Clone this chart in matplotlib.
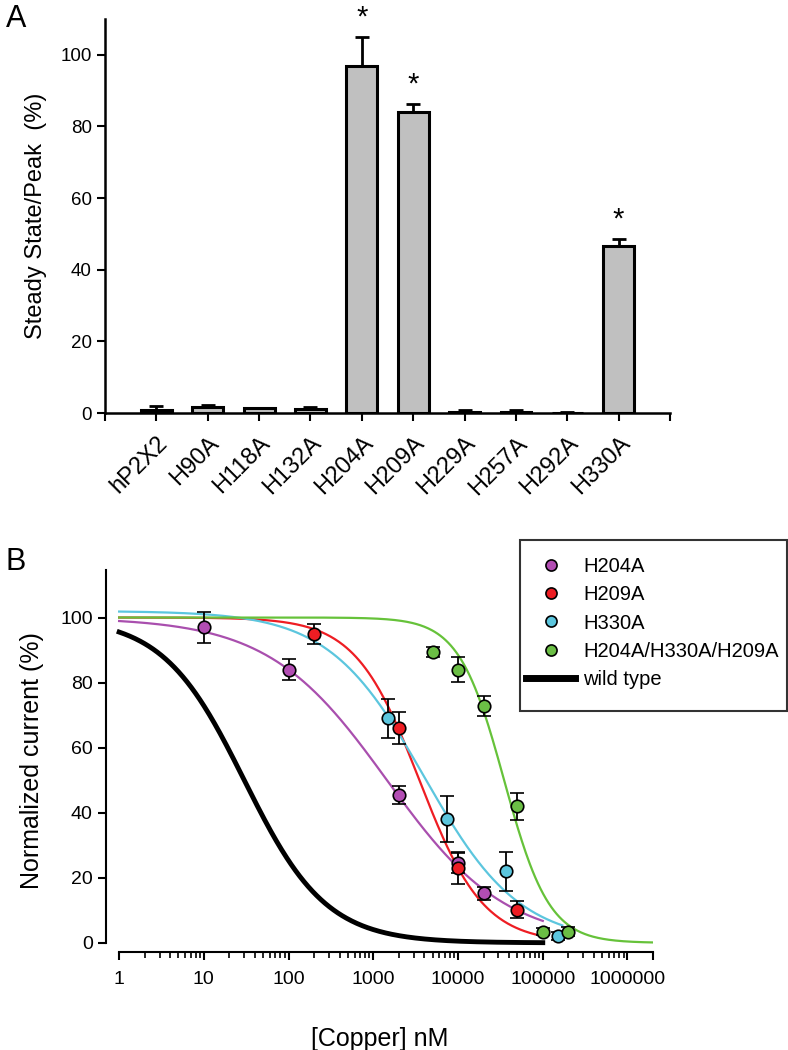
import numpy as np
import matplotlib
matplotlib.use("Agg")
import matplotlib.pyplot as plt
from matplotlib.ticker import FixedLocator, NullFormatter, FuncFormatter
from matplotlib.lines import Line2D
from matplotlib.patches import Rectangle

plt.rcParams['font.family'] = ['Liberation Sans', 'DejaVu Sans']

# ========================================
# Panel A data
# ========================================
mutants = ['hP2X2', 'H90A', 'H118A', 'H132A', 'H204A', 'H209A', 'H229A', 'H257A', 'H292A', 'H330A']
ratio = [0.8, 1.6, 1.5, 1.2, 97, 84, 0.4, 0.3, 0.1, 46.5]
ratio_err = [1.2, 0.6, 0.0, 0.6, 8, 2.3, 0.3, 0.4, 0.3, 2.0]
significant = ['H204A', 'H209A', 'H330A']

# ========================================
# Panel B data (points, mean +/- sem)
# ========================================
h204_x = [10, 100, 2000, 10000, 20000]
h204_y = [97, 84, 45.5, 24.5, 15.3]
h204_e = [4.7, 3.2, 2.8, 3.0, 2.0]

h209_x = [200, 2000, 10000, 50000]
h209_y = [95, 66, 23, 10.2]
h209_e = [3.0, 5.0, 5.0, 2.6]

h330_x = [1500, 7500, 37000, 150000]
h330_y = [69, 38, 22, 2]
h330_e = [6.0, 7.0, 6.0, 1.2]

triple_x = [5000, 10000, 20000, 50000, 100000, 200000]
triple_y = [89.5, 84, 72.8, 42, 3.5, 3.5]
triple_e = [1.5, 3.8, 3.0, 4.2, 1.2, 1.5]

# Hill fit parameters
fit_names = ['H204A', 'H209A', 'H330A', 'H204A/H330A/H209A', 'wild type']
fit_ic50 = [1450, 3500, 4000, 35000, 30]
fit_hill = [0.62, 1.15, 0.77, 1.63, 0.9]
fit_top = [100, 100, 102, 100, 100]
fit_xmax = [1e5, 1e5, 1.7e5, 2e6, 1e5]

colors = ['#B24DB3', '#EE1D23', '#5CC6DE', '#6BBE45', 'black']
line_colors = ['#A94FAE', '#EE1D23', '#5CC6DE', '#66C23A', 'black']

xtick_vals = [1, 10, 100, 1000, 10000, 100000, 1000000]

# ========================================
# Figure
# ========================================
W, H = 788, 1050
fig = plt.figure(figsize=(W / 100, H / 100), dpi=100)

# ---------- Panel A ----------
axA = fig.add_axes([105 / W, 1 - 413 / H, 565 / W, 394 / H])
xpos = np.arange(len(mutants))
axA.bar(xpos, ratio, width=0.6, color='#C0C0C0', edgecolor='black', linewidth=2.2, zorder=2)
axA.errorbar(xpos, ratio, yerr=[np.zeros(len(ratio)), ratio_err], fmt='none',
             ecolor='black', elinewidth=2, capsize=5, capthick=2, zorder=1)
for i, name in enumerate(mutants):
    if name in significant:
        axA.text(xpos[i], ratio[i] + ratio_err[i] + 1.5, '*', ha='center', va='bottom', fontsize=21)

axA.set_xlim(-1, 10)
axA.set_ylim(0, 110)
axA.xaxis.set_major_locator(FixedLocator(np.arange(-1, 11)))
axA.set_xticklabels([''] + mutants + [''], rotation=45, ha='right', va='top',
                    rotation_mode='anchor', fontsize=17)
axA.set_yticks([0, 20, 40, 60, 80, 100])
axA.tick_params(axis='both', direction='out', length=6, width=1.5)
axA.tick_params(axis='y', labelsize=13.5)
axA.tick_params(axis='x', pad=8)
for s in ['top', 'right']:
    axA.spines[s].set_visible(False)
for s in ['left', 'bottom']:
    axA.spines[s].set_linewidth(1.8)
axA.set_ylabel('Steady State/Peak  (%)', fontsize=17, labelpad=10)
fig.text(6 / W, 1 - 19 / H, 'A', fontsize=22, ha='left', va='center')

# ---------- Panel B ----------
ytop = 114.6
axB = fig.add_axes([106 / W, 1 - 952 / H, 547 / W, 382 / H])
axB.set_xscale('log')
axB.set_xlim(0.70, 2e6)
axB.set_ylim(-2.8, ytop)

for name, ic, n, top, xm, c in zip(fit_names, fit_ic50, fit_hill, fit_top, fit_xmax, line_colors):
    xx = np.logspace(0, np.log10(xm), 400)
    yy = top / (1 + (xx / ic) ** n)
    lw = 3.5 if name == 'wild type' else 1.6
    axB.plot(xx, yy, color=c, lw=lw, zorder=2)

point_sets = [(h204_x, h204_y, h204_e), (h209_x, h209_y, h209_e),
              (h330_x, h330_y, h330_e), (triple_x, triple_y, triple_e)]
for (px, py, pe), c in zip(point_sets, colors[:4]):
    axB.errorbar(px, py, yerr=pe, fmt='o', color=c, mfc=c, mec='black', mew=1.2, ms=9,
                 ecolor='black', elinewidth=1.3, capsize=5, capthick=1.6, zorder=3)

axB.spines['left'].set_bounds(0, ytop)
axB.spines['bottom'].set_bounds(1, 2e6)
for s in ['top', 'right']:
    axB.spines[s].set_visible(False)
for s in ['left', 'bottom']:
    axB.spines[s].set_linewidth(1.5)
axB.set_yticks([0, 20, 40, 60, 80, 100])
axB.xaxis.set_major_locator(FixedLocator(xtick_vals + [2e6]))
axB.xaxis.set_major_formatter(FuncFormatter(lambda v, p: '%d' % round(v) if v < 1.5e6 else ''))
minor = [m * d for d in xtick_vals for m in range(2, 10) if m * d < 2e6]
axB.xaxis.set_minor_locator(FixedLocator(minor))
axB.xaxis.set_minor_formatter(NullFormatter())
axB.tick_params(axis='both', which='major', direction='out', length=6, width=1.5, labelsize=14)
axB.tick_params(axis='x', which='minor', direction='out', length=4, width=1.2)
axB.tick_params(axis='x', pad=8)
axB.set_xlabel('[Copper] nM', fontsize=18, labelpad=28)
axB.set_ylabel('Normalized current (%)', fontsize=18, labelpad=12)
fig.text(6 / W, 1 - 562 / H, 'B', fontsize=22, ha='left', va='center')

# legend: box drawn by hand so it can run past the axes to the figure edge
box = Rectangle((520 / W, 1 - 711 / H), 267 / W, 171 / H, transform=fig.transFigure,
                facecolor='white', edgecolor='#333333', linewidth=1.5, zorder=5)
fig.patches.append(box)
handles = [Line2D([], [], ls='none', marker='o', mfc=c, mec='black', mew=1.2, ms=8)
           for c in colors[:4]]
handles.append(Line2D([], [], color='black', lw=5))
leg = fig.legend(handles, fit_names, loc='upper left',
                 bbox_to_anchor=(526 / W, 1 - 557 / H), fontsize=14.5,
                 frameon=False, handlelength=2.45, handletextpad=0.4,
                 labelspacing=0.46, borderpad=0, borderaxespad=0)
leg.set_zorder(6)

fig.savefig('out.png', dpi=100)
